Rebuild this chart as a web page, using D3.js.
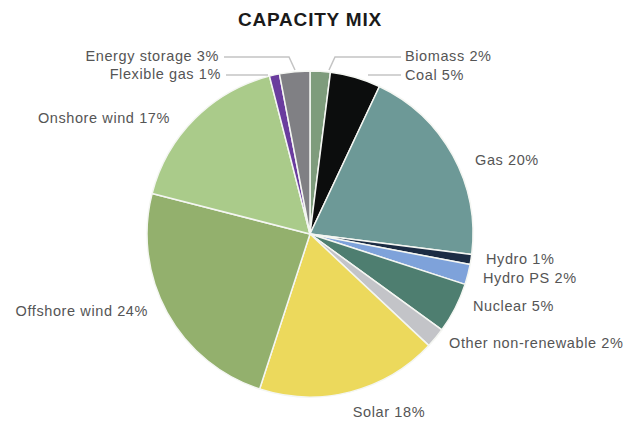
<!DOCTYPE html>
<html lang="en">
<head>
    <meta charset="UTF-8">
    <title>Capacity mix</title>
    <script src="https://d3js.org/d3.v7.min.js"></script>
    <style>
        body { margin: 0; background: #fff; }
        text { font-family: "Liberation Sans", Arial, sans-serif; }
    </style>
</head>
<body>
<svg width="632" height="424"></svg>

<script>
    // slices clockwise from 12 o'clock
    const sources = ["Biomass", "Coal", "Gas", "Hydro", "Hydro PS", "Nuclear",
        "Other non-renewable", "Solar", "Offshore wind", "Onshore wind",
        "Flexible gas", "Energy storage"];
    const shares = [2, 5, 20, 1, 2, 5, 2, 18, 24, 17, 1, 3];
    const colours = ["#7e9c7c", "#0c0d0d", "#6d9997", "#1c2c44", "#7ea2da", "#4e7e70",
        "#c3c4c8", "#ecd95c", "#93b06d", "#aacb8a", "#6a3c9e", "#808084"];

    // label placement: [x, y, anchor]
    const labelAt = {
        "Biomass": [405, 61, "start"],
        "Coal": [405, 80, "start"],
        "Gas": [475, 165, "start"],
        "Hydro": [486, 264, "start"],
        "Hydro PS": [483, 283, "start"],
        "Nuclear": [473, 311, "start"],
        "Other non-renewable": [449, 348, "start"],
        "Solar": [389, 417, "middle"],
        "Offshore wind": [148, 316, "end"],
        "Onshore wind": [170, 123, "end"],
        "Flexible gas": [221, 79, "end"],
        "Energy storage": [219, 61, "end"]
    };
    // leader lines for the crowded top slices
    const leaders = [
        [[224, 57], [289, 57], [295, 70]],
        [[226, 75], [268, 75]],
        [[401, 57], [335, 57], [329, 70]],
        [[401, 75], [368, 75]]
    ];

    const svg = d3.select("svg");
    const cx = 310, cy = 234, r = 163;

    svg.append("text")
        .attr("x", cx)
        .attr("y", 26)
        .attr("text-anchor", "middle")
        .attr("font-size", 19)
        .attr("font-weight", "bold")
        .attr("letter-spacing", 0.8)
        .attr("fill", "#1a1a1a")
        .text("CAPACITY MIX");

    const data = sources.map((s, i) => ({name: s, value: shares[i], color: colours[i]}));

    const pie = d3.pie().sort(null).value(d => d.value);
    const arc = d3.arc().innerRadius(0).outerRadius(r);

    const g = svg.append("g").attr("transform", `translate(${cx},${cy})`);
    g.selectAll("path")
        .data(pie(data))
        .enter()
        .append("path")
        .attr("d", arc)
        .attr("fill", d => d.data.color)
        .attr("stroke", "#f4f6f2")
        .attr("stroke-width", 1.5)
        .attr("stroke-linejoin", "round");

    svg.append("g")
        .selectAll("polyline")
        .data(leaders)
        .enter()
        .append("polyline")
        .attr("points", d => d.map(p => p.join(",")).join(" "))
        .attr("fill", "none")
        .attr("stroke", "#c4c4c4")
        .attr("stroke-width", 1.5);

    svg.append("g")
        .selectAll("text")
        .data(data)
        .enter()
        .append("text")
        .attr("x", d => labelAt[d.name][0])
        .attr("y", d => labelAt[d.name][1])
        .attr("text-anchor", d => labelAt[d.name][2])
        .attr("font-size", 14.5)
        .attr("letter-spacing", 0.6)
        .attr("fill", "#555")
        .text(d => `${d.name} ${d.value}%`);
</script>
</body>
</html>
